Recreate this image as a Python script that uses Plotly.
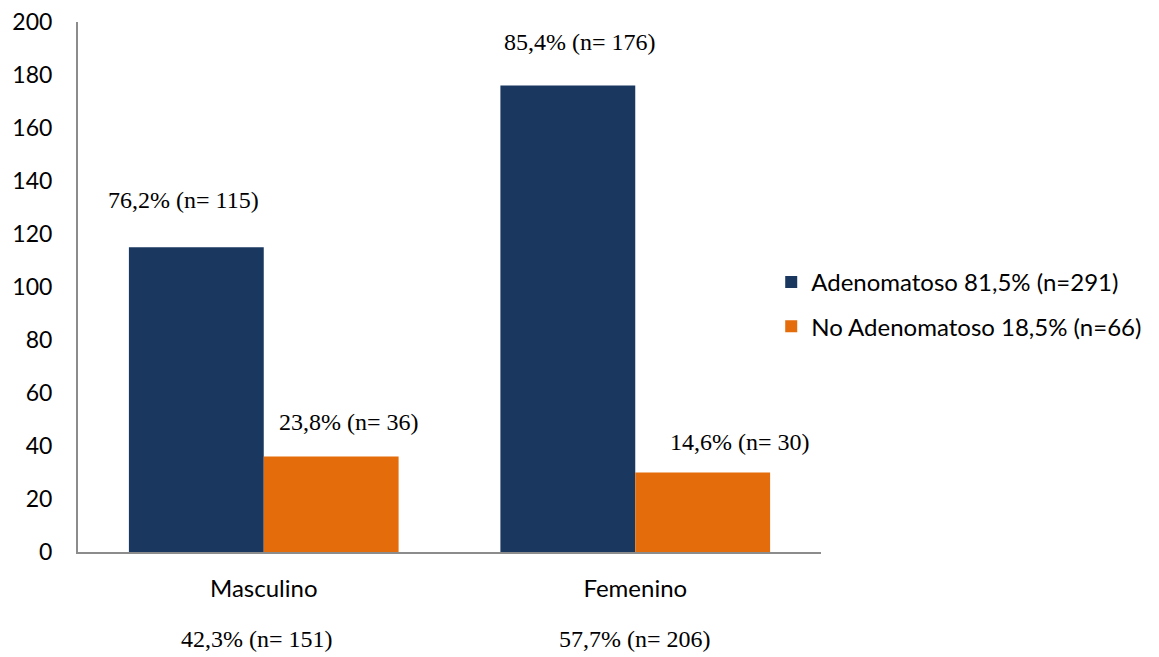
import plotly.graph_objects as go

categories = ["Masculino", "Femenino"]
adeno = [115, 176]
no_adeno = [36, 30]
adeno_labels = ["76,2% (n= 115)", "85,4% (n= 176)"]
no_adeno_labels = ["23,8% (n= 36)", "14,6% (n= 30)"]
cat_labels = ["42,3% (n= 151)", "57,7% (n= 206)"]
series_names = ["Adenomatoso 81,5% (n=291)", "No Adenomatoso 18,5% (n=66)"]
yticks = list(range(0, 201, 20))

fig = go.Figure()
fig.add_trace(go.Bar(x=categories, y=adeno, name=series_names[0],
                     marker=dict(color="#1A3760", line=dict(width=0)), legendgroup="a"))
fig.add_trace(go.Bar(x=categories, y=no_adeno, name=series_names[1],
                     marker=dict(color="#E46C0A", line=dict(width=0)), legendgroup="b"))

serif = dict(family="Liberation Serif, Times New Roman, serif", size=24, color="#000000")
ann = []
for i, c in enumerate(categories):
    ann.append(dict(x=c, y=adeno[i], text=adeno_labels[i], showarrow=False,
                    xref="x", yref="y", xshift=[-80, -55][i], yshift=[47, 44][i], font=serif))
    ann.append(dict(x=c, y=no_adeno[i], text=no_adeno_labels[i], showarrow=False,
                    xref="x", yref="y", xshift=[85, 105][i], yshift=[35, 31][i], font=serif))
    ann.append(dict(x=c, y=0, text=cat_labels[i], showarrow=False,
                    xref="x", yref="paper", yshift=-102,
                    xshift=[-7, 0][i], font=serif))
fig.update_layout(annotations=ann)

fig.update_layout(
    width=1159, height=657,
    margin=dict(l=78, r=333, t=22, b=105),
    paper_bgcolor="white", plot_bgcolor="white",
    barmode="group", bargap=0.274, bargroupgap=0,
    font=dict(family="Lato, Open Sans, sans-serif", size=24, color="#000000"),
    showlegend=True,
    legend=dict(x=0.933, xanchor="left", y=0.467, yanchor="middle",
                font=dict(size=24), traceorder="grouped", tracegroupgap=10,
                itemwidth=30),
    xaxis=dict(showline=True, linecolor="#8C8C8C", linewidth=2, ticks="",
               showgrid=False, tickfont=dict(size=24), ticklabelstandoff=14,
               automargin=False),
    yaxis=dict(range=[0, 200], tickvals=yticks, showline=True, linecolor="#8C8C8C",
               linewidth=2, showgrid=False, ticks="", zeroline=False,
               tickfont=dict(size=23), ticklabelstandoff=19, automargin=False),
)

fig.write_html("out.html")
